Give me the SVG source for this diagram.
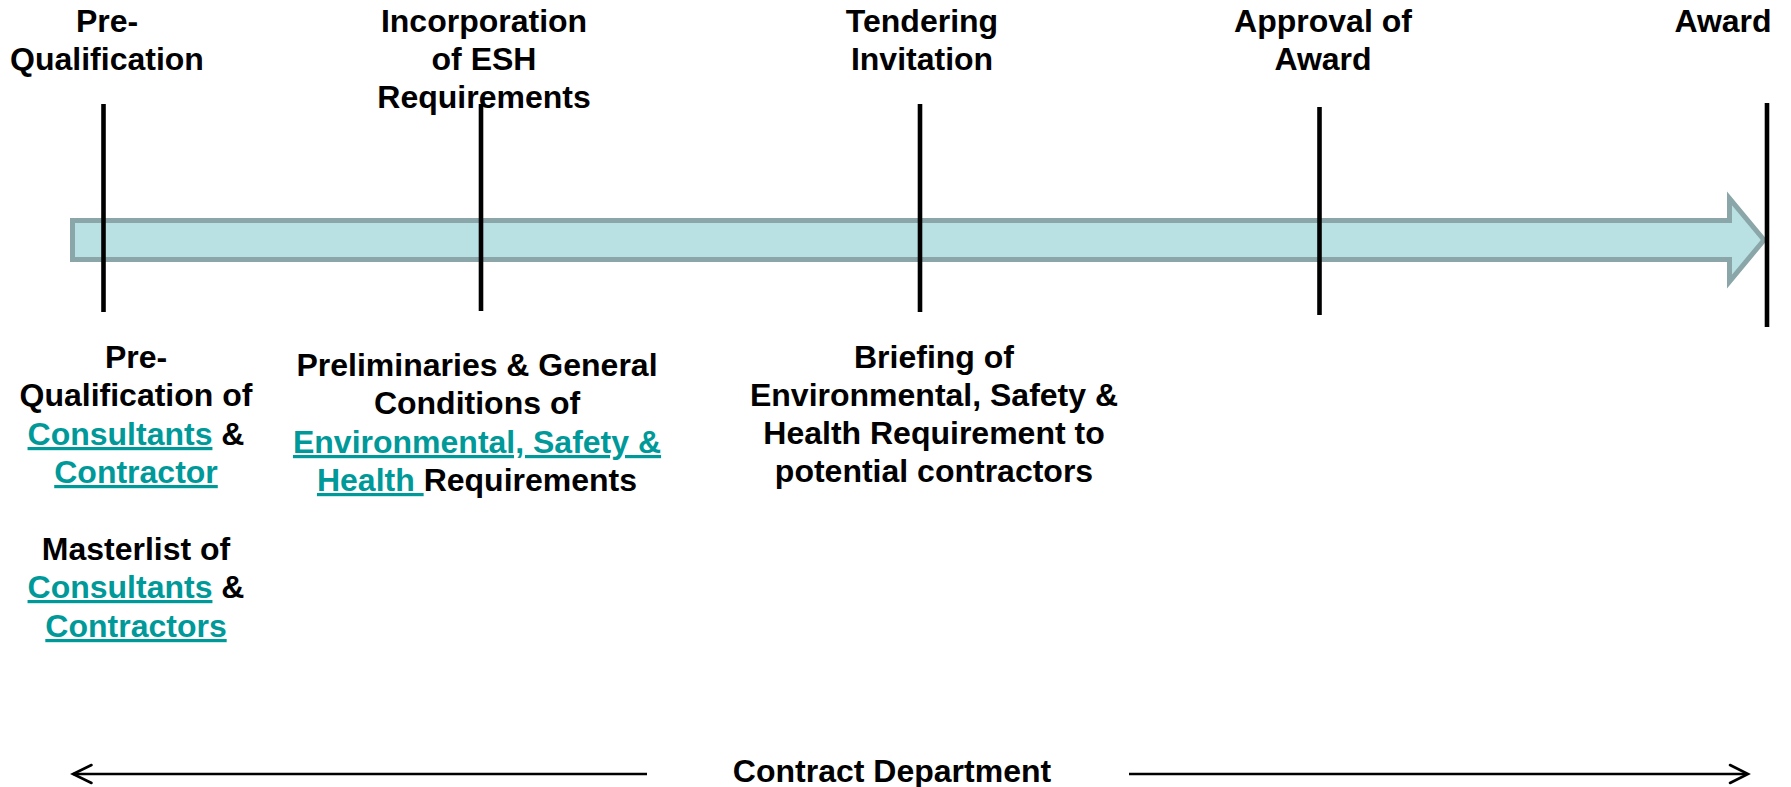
<svg xmlns="http://www.w3.org/2000/svg" width="1791" height="787" viewBox="0 0 1791 787">
<style>
text{font-family:"Liberation Sans",Arial,sans-serif;font-weight:bold;font-size:32px;fill:#000;text-anchor:middle}
.lnk{fill:#009999;text-decoration:underline}
.tick{stroke:#000;stroke-width:4.6;fill:none}
.bar{fill:#B9E0E3;stroke:#8BA6A8;stroke-width:5;stroke-linejoin:miter}
.dept{stroke:#000;stroke-width:2.6;fill:none}
.head{stroke:#000;stroke-width:2.6;fill:none;stroke-linecap:round;stroke-linejoin:miter}
</style>
<rect width="1791" height="787" fill="#fff"/>
<g id="timeline">
<polygon class="bar" points="72.5,220.5 1729.5,220.5 1729.5,198.5 1764,240 1729.5,281.5 1729.5,259.5 72.5,259.5"/>
</g>
<g id="connectors">
<line class="tick" x1="103.5" y1="104" x2="103.5" y2="312"/>
<line class="tick" x1="481" y1="104" x2="481" y2="311"/>
<line class="tick" x1="920" y1="104" x2="920" y2="312"/>
<line class="tick" x1="1319.5" y1="107" x2="1319.5" y2="315"/>
<line class="tick" x1="1767" y1="103" x2="1767" y2="327"/>
<line class="dept" x1="73" y1="774" x2="647" y2="774"/>
<polyline class="head" points="91.5,765 73,774 91.5,783"/>
<line class="dept" x1="1129" y1="774" x2="1747" y2="774"/>
<polyline class="head" points="1730,765 1748,774 1730,783"/>
</g>
<g id="m1">
<text x="107" y="32">Pre-</text>
<text x="107" y="70">Qualification</text>
</g>
<g id="m2">
<text x="484" y="32">Incorporation</text>
<text x="484" y="70">of ESH</text>
<text x="484" y="108">Requirements</text>
</g>
<g id="m3">
<text x="922" y="32">Tendering</text>
<text x="922" y="70">Invitation</text>
</g>
<g id="m4">
<text x="1323" y="32">Approval of</text>
<text x="1323" y="70">Award</text>
</g>
<g id="m5">
<text x="1723" y="32">Award</text>
</g>
<g id="d1">
<text x="136" y="368">Pre-</text>
<text x="136" y="406">Qualification of</text>
<text x="136" y="445"><tspan class="lnk">Consultants</tspan> &amp;</text>
<text x="136" y="483" class="lnk">Contractor</text>
<text x="136" y="560">Masterlist of</text>
<text x="136" y="598"><tspan class="lnk">Consultants</tspan> &amp;</text>
<text x="136" y="637" class="lnk">Contractors</text>
</g>
<g id="d2">
<text x="477" y="376">Preliminaries &amp; General</text>
<text x="477" y="414">Conditions of</text>
<text x="477" y="453" class="lnk">Environmental, Safety &amp;</text>
<text x="477" y="491" xml:space="preserve"><tspan class="lnk">Health </tspan>Requirements</text>
</g>
<g id="d3">
<text x="934" y="368">Briefing of</text>
<text x="934" y="406">Environmental, Safety &amp;</text>
<text x="934" y="444">Health Requirement to</text>
<text x="934" y="482">potential contractors</text>
</g>
<g id="dept">
<text x="892" y="782">Contract Department</text>
</g>
</svg>
